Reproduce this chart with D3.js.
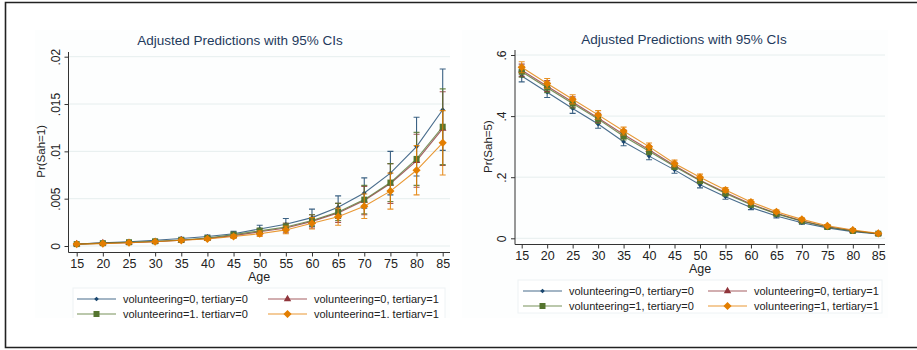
<!DOCTYPE html>
<html>
<head>
<meta charset="utf-8">
<script src="https://cdn.jsdelivr.net/npm/d3@7"></script>
<style>
  body { margin: 0; background: #fff; }
  svg { display: block; font-family: "Liberation Sans", Arial, sans-serif; }
</style>
</head>
<body>
<svg id="chart" width="917" height="350"></svg>
<script>
// ages on the x axis
const ages = [15, 20, 25, 30, 35, 40, 45, 50, 55, 60, 65, 70, 75, 80, 85];

// Pr(Sah=1)
const sah1V0T0 = [0.0002, 0.00035, 0.00045, 0.0006, 0.0008, 0.001, 0.0013, 0.0018, 0.0023, 0.003, 0.0041, 0.0056, 0.0077, 0.0105, 0.0144];
const sah1V0T1 = [0.0002, 0.0003, 0.00035, 0.00045, 0.0006, 0.0008, 0.0011, 0.0015, 0.0019, 0.0026, 0.0035, 0.0048, 0.0066, 0.009, 0.0124];
const sah1V1T0 = [0.0002, 0.0003, 0.0004, 0.0005, 0.00063, 0.00085, 0.0012, 0.0016, 0.002, 0.0027, 0.0036, 0.0049, 0.0067, 0.0092, 0.0126];
const sah1V1T1 = [0.0002, 0.00025, 0.00035, 0.00045, 0.0006, 0.00075, 0.001, 0.0013, 0.0017, 0.0024, 0.0031, 0.0042, 0.0058, 0.008, 0.0109];
// half widths of the 95% CIs
const sah1V0T0Ci = [0.00005, 0.00006, 0.00007, 0.00009, 0.00012, 0.00016, 0.00025, 0.0004, 0.0006, 0.0009, 0.0012, 0.0016, 0.0023, 0.0031, 0.0043];
const sah1V0T1Ci = [0.00006, 0.00007, 0.00008, 0.0001, 0.00013, 0.00018, 0.00025, 0.00035, 0.0005, 0.0007, 0.001, 0.0015, 0.0021, 0.0028, 0.0039];
const sah1V1T0Ci = [0.00005, 0.00006, 0.00007, 0.00009, 0.00012, 0.00016, 0.00022, 0.0003, 0.0004, 0.0006, 0.0009, 0.0015, 0.002, 0.0028, 0.004];
const sah1V1T1Ci = [0.00005, 0.00006, 0.00007, 0.00008, 0.0001, 0.00014, 0.0002, 0.0003, 0.0004, 0.0006, 0.0009, 0.0013, 0.0019, 0.0026, 0.0034];

// Pr(Sah=5)
const sah5V0T0 = [0.531, 0.478, 0.425, 0.374, 0.316, 0.269, 0.224, 0.175, 0.136, 0.101, 0.073, 0.051, 0.034, 0.022, 0.014];
const sah5V0T1 = [0.55, 0.498, 0.446, 0.394, 0.34, 0.29, 0.238, 0.19, 0.15, 0.112, 0.082, 0.057, 0.038, 0.025, 0.015];
const sah5V1T0 = [0.545, 0.493, 0.441, 0.39, 0.334, 0.285, 0.235, 0.188, 0.147, 0.11, 0.08, 0.056, 0.037, 0.024, 0.015];
const sah5V1T1 = [0.56, 0.507, 0.455, 0.404, 0.351, 0.3, 0.245, 0.2, 0.158, 0.119, 0.087, 0.062, 0.041, 0.027, 0.016];
const sah5V0T0Ci = [0.019, 0.017, 0.016, 0.014, 0.013, 0.012, 0.011, 0.01, 0.008, 0.007, 0.006, 0.005, 0.004, 0.003, 0.002];
const sah5V0T1Ci = [0.02, 0.018, 0.017, 0.015, 0.014, 0.013, 0.011, 0.01, 0.009, 0.007, 0.006, 0.005, 0.004, 0.003, 0.002];
const sah5V1T0Ci = [0.018, 0.016, 0.015, 0.014, 0.012, 0.011, 0.01, 0.009, 0.008, 0.007, 0.006, 0.004, 0.003, 0.003, 0.002];
const sah5V1T1Ci = [0.018, 0.016, 0.015, 0.014, 0.013, 0.012, 0.011, 0.01, 0.008, 0.007, 0.006, 0.005, 0.004, 0.003, 0.002];

// tick values and labels
const sah1Ticks = [0, 0.005, 0.01, 0.015, 0.02];
const sah1TickLabels = ['0', '.005', '.01', '.015', '.02'];
const sah5Ticks = [0, 0.2, 0.4, 0.6];
const sah5TickLabels = ['0', '.2', '.4', '.6'];

const seriesNames = ['volunteering=0, tertiary=0', 'volunteering=0, tertiary=1', 'volunteering=1, tertiary=0', 'volunteering=1, tertiary=1'];
const titleText = 'Adjusted Predictions with 95% CIs';

const colors = ['#1a476f', '#90353b', '#55752f', '#e37e00'];
const symbols = [
  d3.symbol().type(d3.symbolDiamond2).size(14),
  d3.symbol().type(d3.symbolTriangle).size(24),
  d3.symbol().type(d3.symbolSquare).size(36),
  d3.symbol().type(d3.symbolDiamond2).size(42)
];

const svg = d3.select('#chart');

// outer frame
svg.append('path')
  .attr('d', 'M917,2.5 H5.5 V347.5 H917')
  .attr('fill', 'none').attr('stroke', '#222').attr('stroke-width', 1.6);

function drawPanel(p) {
  const g = svg.append('g');
  const clipId = 'clip' + p.id;
  svg.append('defs').append('clipPath').attr('id', clipId)
    .append('rect').attr('x', p.bg[0]).attr('y', p.bg[1]).attr('width', p.bg[2]).attr('height', p.bg[3]);
  g.attr('clip-path', `url(#${clipId})`);

  g.append('rect')
    .attr('x', p.bg[0]).attr('y', p.bg[1]).attr('width', p.bg[2]).attr('height', p.bg[3])
    .attr('fill', '#fdfefe');

  const x = d3.scaleLinear().domain([15, 85]).range(p.xRange);
  const y = d3.scaleLinear().domain(p.yDomain).range(p.yRange);

  // gridlines
  g.append('g').selectAll('line')
    .data(p.yTicks)
    .join('line')
    .attr('x1', p.axisX).attr('x2', p.plotRight)
    .attr('y1', (d) => y(d)).attr('y2', (d) => y(d))
    .attr('stroke', '#e6eeee').attr('stroke-width', 1);

  // title
  g.append('text')
    .attr('x', p.titleX).attr('y', p.titleY)
    .attr('text-anchor', 'middle')
    .attr('font-size', 13.5).attr('fill', '#1f3a5c')
    .text(titleText);

  // y axis
  const yAxis = g.append('g')
    .attr('transform', `translate(${p.axisX},0)`)
    .call(d3.axisLeft(y).tickValues(p.yTicks).tickSize(4).tickFormat((d, i) => p.yTickLabels[i]));
  yAxis.select('.domain').attr('d', `M0,${p.axisTop}V${p.axisY}`).attr('stroke', '#333');
  yAxis.selectAll('.tick line').attr('stroke', '#333');
  yAxis.selectAll('.tick text')
    .attr('x', 0).attr('dy', 0)
    .attr('transform', 'translate(-9,0) rotate(-90)')
    .attr('text-anchor', 'middle')
    .attr('font-size', 12).attr('fill', '#222');

  // x axis
  const xAxis = g.append('g')
    .attr('transform', `translate(0,${p.axisY})`)
    .call(d3.axisBottom(x).tickValues(ages).tickSize(4).tickFormat(d3.format('d')));
  xAxis.select('.domain').attr('d', `M${p.axisX},0H${p.plotRight}`).attr('stroke', '#333');
  xAxis.selectAll('.tick line').attr('stroke', '#333');
  xAxis.selectAll('.tick text').attr('y', 7).attr('font-size', 12.5).attr('fill', '#222');

  // axis titles
  g.append('text')
    .attr('transform', `translate(${p.yTitleX},${(p.yRange[0] + p.yRange[1]) / 2}) rotate(-90)`)
    .attr('text-anchor', 'middle')
    .attr('font-size', 11.5).attr('fill', '#222')
    .text(p.yTitle);
  g.append('text')
    .attr('x', p.ageX).attr('y', p.ageY)
    .attr('text-anchor', 'middle')
    .attr('font-size', 12.5).attr('fill', '#222')
    .text('Age');

  // series: CIs, lines, markers
  const line = d3.line().x((d) => x(d.age)).y((d) => y(d.v));
  p.series.forEach((s, k) => {
    const pts = ages.map((a, i) => ({age: a, v: s[i], lo: s[i] - p.cis[k][i], hi: s[i] + p.cis[k][i]}));
    const sg = g.append('g');
    sg.selectAll('path.ci')
      .data(pts)
      .join('path')
      .attr('class', 'ci')
      .attr('d', (d) => `M${x(d.age) - 3},${y(d.hi)}H${x(d.age) + 3}M${x(d.age)},${y(d.hi)}V${y(d.lo)}M${x(d.age) - 3},${y(d.lo)}H${x(d.age) + 3}`)
      .attr('fill', 'none').attr('stroke', colors[k]).attr('stroke-opacity', 0.85).attr('stroke-width', 1.1);
    sg.append('path')
      .datum(pts)
      .attr('d', line)
      .attr('fill', 'none').attr('stroke', colors[k]).attr('stroke-opacity', 0.8).attr('stroke-width', 1.1);
    sg.selectAll('path.mk')
      .data(pts)
      .join('path')
      .attr('class', 'mk')
      .attr('transform', (d) => `translate(${x(d.age)},${y(d.v)})`)
      .attr('d', symbols[k])
      .attr('fill', colors[k]);
  });

  // legend
  const lg = g.append('g');
  lg.append('rect')
    .attr('x', p.legend[0]).attr('y', p.legend[1]).attr('width', p.legend[2]).attr('height', p.legend[3])
    .attr('fill', '#fff').attr('stroke', '#eef2f4');
  seriesNames.forEach((name, k) => {
    const col = k % 2;
    const row = Math.floor(k / 2);
    const lx = p.legCols[col];
    const ly = p.legRows[row];
    lg.append('line')
      .attr('x1', lx).attr('x2', lx + 39).attr('y1', ly).attr('y2', ly)
      .attr('stroke', colors[k]).attr('stroke-opacity', 0.8).attr('stroke-width', 1.1);
    lg.append('path')
      .attr('transform', `translate(${lx + 19.5},${ly})`)
      .attr('d', symbols[k]).attr('fill', colors[k]);
    lg.append('text')
      .attr('x', lx + 46).attr('y', ly + 4)
      .attr('font-size', 11).attr('fill', '#222')
      .text(name);
  });
}

drawPanel({
  id: 'L',
  bg: [35, 30, 415, 288],
  xRange: [76.7, 442.7],
  yDomain: [0, 0.02],
  yRange: [246, 56.7],
  yTicks: sah1Ticks,
  yTickLabels: sah1TickLabels,
  axisX: 68.5,
  axisY: 252.5,
  axisTop: 52,
  plotRight: 450,
  titleX: 240, titleY: 45,
  yTitle: 'Pr(Sah=1)', yTitleX: 45,
  ageX: 259, ageY: 281,
  series: [sah1V0T0, sah1V0T1, sah1V1T0, sah1V1T1],
  cis: [sah1V0T0Ci, sah1V0T1Ci, sah1V1T0Ci, sah1V1T1Ci],
  legend: [73, 288, 372, 34],
  legCols: [77, 268],
  legRows: [299, 314]
});

drawPanel({
  id: 'R',
  bg: [462, 30, 426, 288],
  xRange: [521.7, 878.3],
  yDomain: [0, 0.6],
  yRange: [238.3, 55],
  yTicks: sah5Ticks,
  yTickLabels: sah5TickLabels,
  axisX: 515,
  axisY: 244.5,
  axisTop: 50,
  plotRight: 885,
  titleX: 684, titleY: 44,
  yTitle: 'Pr(Sah=5)', yTitleX: 492,
  ageX: 700, ageY: 273,
  series: [sah5V0T0, sah5V0T1, sah5V1T0, sah5V1T1],
  cis: [sah5V0T0Ci, sah5V0T1Ci, sah5V1T0Ci, sah5V1T1Ci],
  legend: [518, 280, 364, 33],
  legCols: [523, 708],
  legRows: [291, 306]
});
</script>
</body>
</html>
